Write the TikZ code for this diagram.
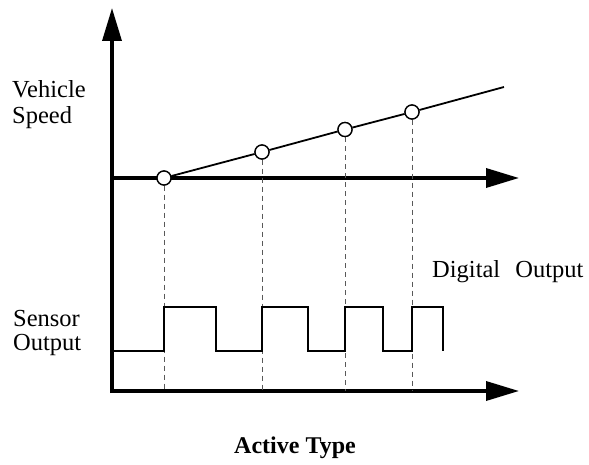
\documentclass[tikz,border=0pt]{standalone}
\usepackage{fontspec}
\setmainfont{Liberation Serif}
\usetikzlibrary{arrows.meta}
\begin{document}
\begin{tikzpicture}[x=1pt,y=-1pt,
  axisline/.style={line width=3.5pt,-{Triangle[length=33pt,width=19pt]}},
  speedline/.style={line width=1.8pt},
  waveline/.style={line width=1.8pt,line join=miter},
  guide/.style={gray!70!black,line width=0.9pt,dash pattern=on 5pt off 4pt},
  dot/.style={circle,draw,line width=1.3pt,fill=white,minimum size=14pt,inner sep=0pt},
  lab/.style={inner sep=0pt,font=\fontsize{24.5}{29}\selectfont},
  ttl/.style={inner sep=0pt,font=\fontsize{24}{29}\selectfont\bfseries}]
\useasboundingbox (0,0) rectangle (589,465);
% axes
\coordinate (ybot) at (112,393);
\coordinate (ytop) at (112,8);
\coordinate (ux0) at (112,178);
\coordinate (ux1) at (519,178);
\coordinate (lx0) at (110,391);
\coordinate (lx1) at (519,391);
\draw[axisline] (ybot) -- (ytop);
\draw[axisline] (ux0) -- (ux1);
\draw[axisline] (lx0) -- (lx1);
% speed line and points
\coordinate (send) at (504,87);
\node[dot] (c1) at (164,178) {};
\node[dot] (c2) at (262,152) {};
\node[dot] (c3) at (345,129.5) {};
\node[dot] (c4) at (412,112) {};
\draw[speedline] (c1) -- (c2) -- (c3) -- (c4) -- (send);
% guides
\coordinate (g1) at (164,391);
\coordinate (g2) at (262,391);
\coordinate (g3) at (345,391);
\coordinate (g4) at (412,391);
\draw[guide] (c1.south) -- (g1);
\draw[guide] (c2.south) -- (g2);
\draw[guide] (c3.south) -- (g3);
\draw[guide] (c4.south) -- (g4);
% redraw dots on top
\node[dot] at (c1) {};
\node[dot] at (c2) {};
\node[dot] at (c3) {};
\node[dot] at (c4) {};
% square wave
\draw[waveline] (112,351) -- (164,351) -- (164,307) -- (216,307) -- (216,351)
  -- (262,351) -- (262,307) -- (308,307) -- (308,351) -- (345,351) -- (345,307)
  -- (383,307) -- (383,351) -- (412,351) -- (412,307) -- (443,307) -- (443,351);
% labels
\node[lab,anchor=base west] (veh) at (12,98) {Vehicle};
\node[lab,anchor=base west] (spd) at (12,124) {Speed};
\node[lab,anchor=base west] (sen) at (13,326) {Sensor};
\node[lab,anchor=base west] (out) at (13,350) {Output};
\node[lab,anchor=base west] (dig) at (432,277) {Digital\hspace{9pt} Output};
\node[ttl,anchor=base] (act) at (295,453) {Active Type};
\end{tikzpicture}
\end{document}
